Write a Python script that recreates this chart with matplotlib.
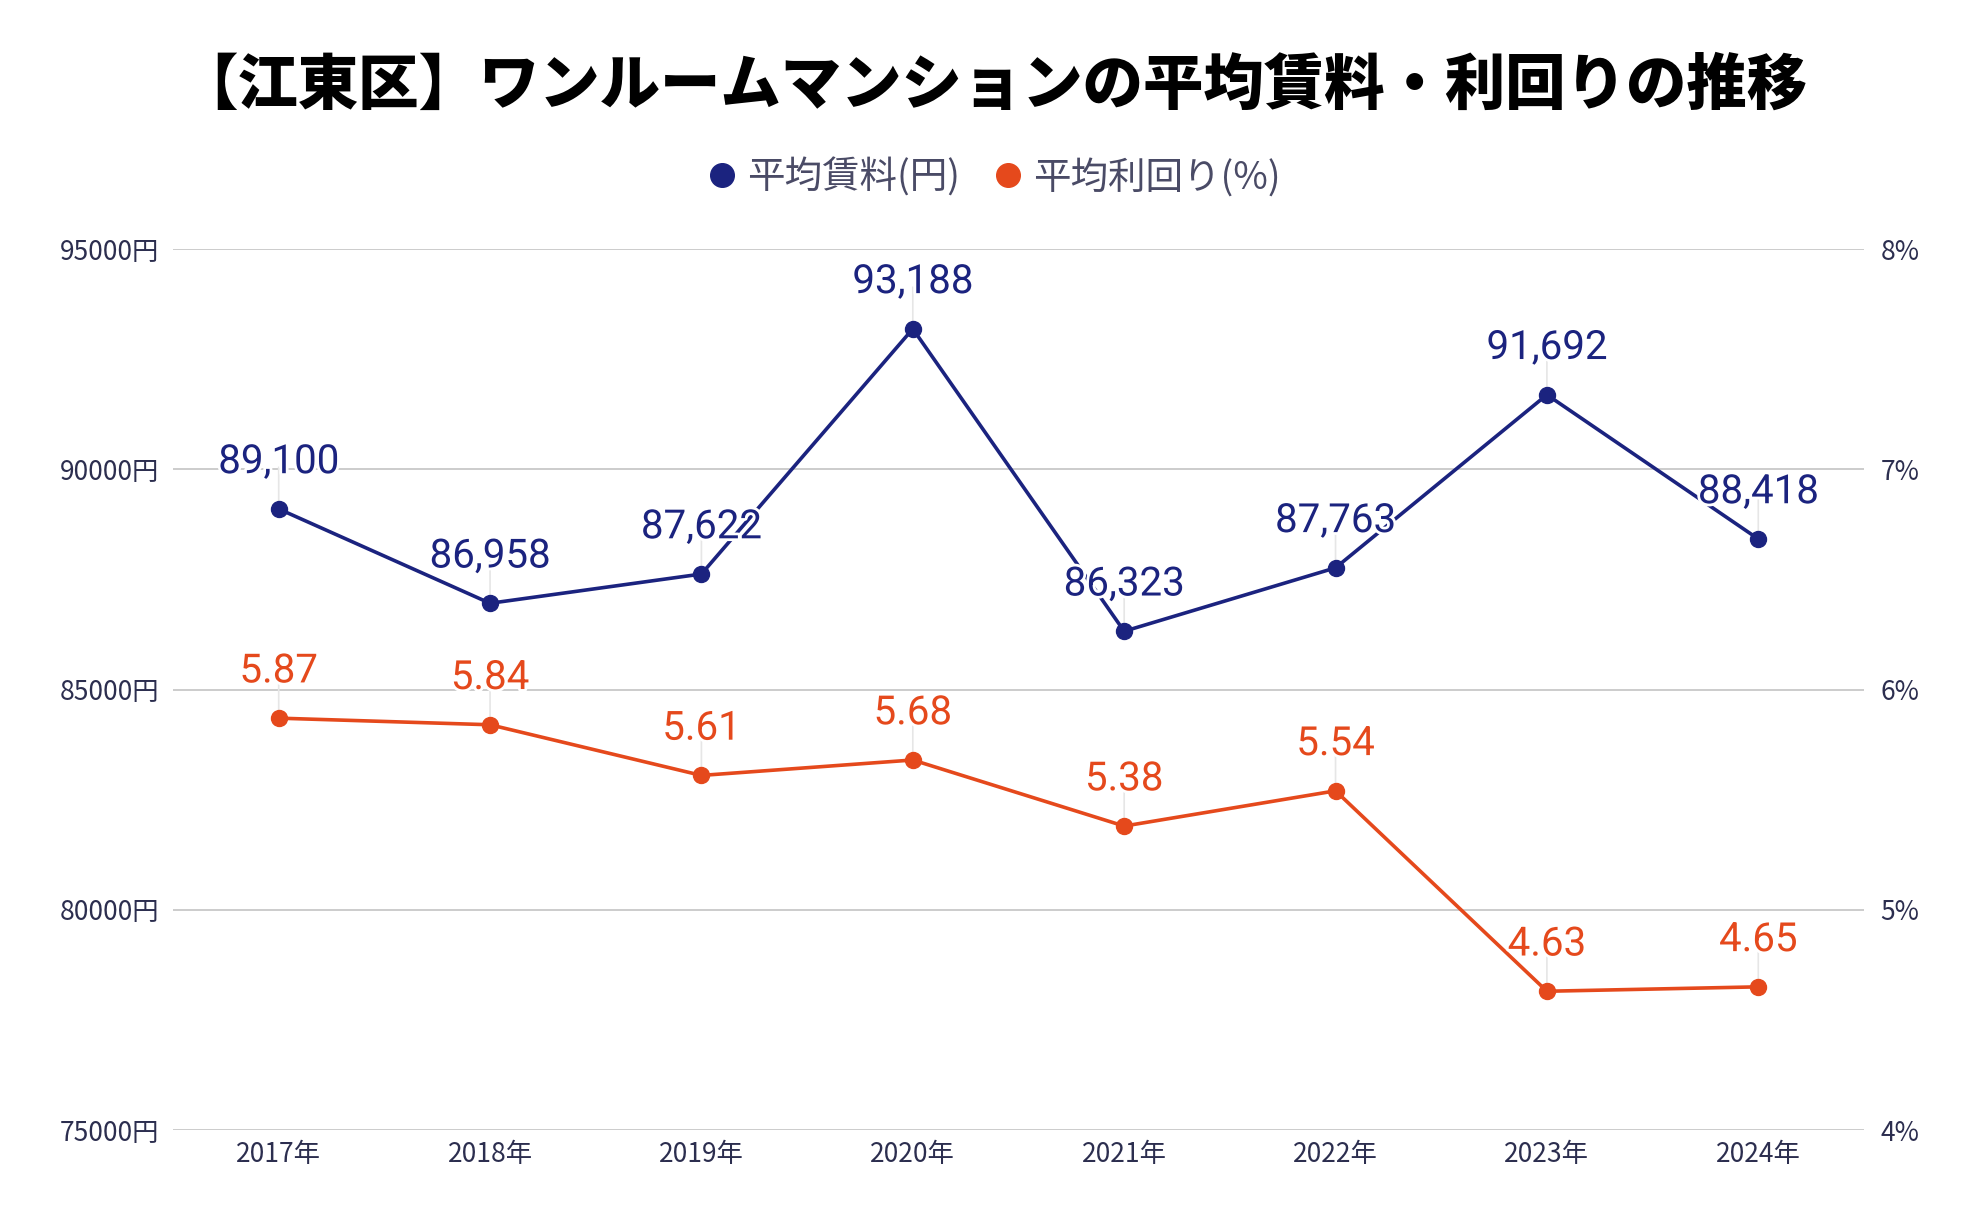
import matplotlib
matplotlib.use("Agg")
import matplotlib.pyplot as plt
import matplotlib.patheffects as pe
from matplotlib.lines import Line2D
import numpy as np

plt.rcParams['font.family'] = ['Noto Sans CJK JP', 'DejaVu Sans']

# ── Data ──────────────────────────────────────────────────────────────────────
years = ["2017年", "2018年", "2019年", "2020年", "2021年", "2022年", "2023年", "2024年"]
rent = [89100, 86958, 87622, 93188, 86323, 87763, 91692, 88418]      # 円
yield_pct = [5.87, 5.84, 5.61, 5.68, 5.38, 5.54, 4.63, 4.65]          # %

rent_ticks = [75000, 80000, 85000, 90000, 95000]
yield_ticks = [4, 5, 6, 7, 8]

TITLE = "【江東区】ワンルームマンションの平均賃料・利回りの推移"
LBL_RENT = "平均賃料(円)"
LBL_YIELD = "平均利回り(%)"

NAVY = "#1b237f"
ORANGE = "#e5491c"
TICK_C = "#2c2e4f"
GRID_C = "#c8c8c8"

# ── Figure ────────────────────────────────────────────────────────────────────
fig = plt.figure(figsize=(19.84, 12.28), dpi=100)
ax = fig.add_axes([0.0872, 0.0798, 0.8523, 0.7174])
ax2 = ax.twinx()

x = np.arange(len(years))

ax.set_xlim(-0.5, len(years) - 0.5)
ax.set_ylim(rent_ticks[0], rent_ticks[-1])
ax2.set_ylim(yield_ticks[0], yield_ticks[-1])

ax.set_yticks(rent_ticks)
ax.set_yticklabels([f"{v}円" for v in rent_ticks])
ax2.set_yticks(yield_ticks)
ax2.set_yticklabels([f"{v}%" for v in yield_ticks])
ax.set_xticks(x)
ax.set_xticklabels(years)

for a in (ax, ax2):
    for s in a.spines.values():
        s.set_visible(False)
    a.tick_params(length=0, labelsize=19, colors=TICK_C)
ax.tick_params(axis="y", pad=10)
ax2.tick_params(axis="y", pad=12)
ax.tick_params(axis="x", pad=8)

ax.grid(axis="y", color=GRID_C, lw=1.3)
ax.set_axisbelow(True)


def draw_series(a, vals, color, fmt):
    a.plot(x, vals, color=color, lw=2.6, marker="o", ms=11.5, zorder=3)
    for xi, v in zip(x, vals):
        a.annotate("", xy=(xi, v), xytext=(0, 30), textcoords="offset points",
                   arrowprops=dict(arrowstyle="-", color="#e6e6e6", lw=1.2,
                                   shrinkA=0, shrinkB=6), zorder=2)
        a.annotate(fmt(v), xy=(xi, v), xytext=(0, 34), textcoords="offset points",
                   ha="center", va="center", fontsize=29, color=color,
                   family=["Roboto", "DejaVu Sans"], zorder=4,
                   path_effects=[pe.withStroke(linewidth=4, foreground="white")])


draw_series(ax, rent, NAVY, lambda v: f"{v:,}")
draw_series(ax2, yield_pct, ORANGE, lambda v: f"{v:.2f}")

# ── Title & legend ────────────────────────────────────────────────────────────
fig.text(0.5, 0.93, TITLE, ha="center", va="center", fontsize=43.5,
         fontweight="heavy", color="black")

handles = [
    Line2D([], [], ls="", marker="o", ms=17, color=NAVY, label=LBL_RENT),
    Line2D([], [], ls="", marker="o", ms=17, color=ORANGE, label=LBL_YIELD),
]
leg = fig.legend(handles=handles, loc="center", bbox_to_anchor=(0.5, 0.855),
                 ncol=2, frameon=False, fontsize=27, handletextpad=0.15,
                 columnspacing=0.8, handlelength=1.0)
for t in leg.get_texts():
    t.set_color("#4a4b66")

fig.savefig("out.png", dpi=100, facecolor="white")
